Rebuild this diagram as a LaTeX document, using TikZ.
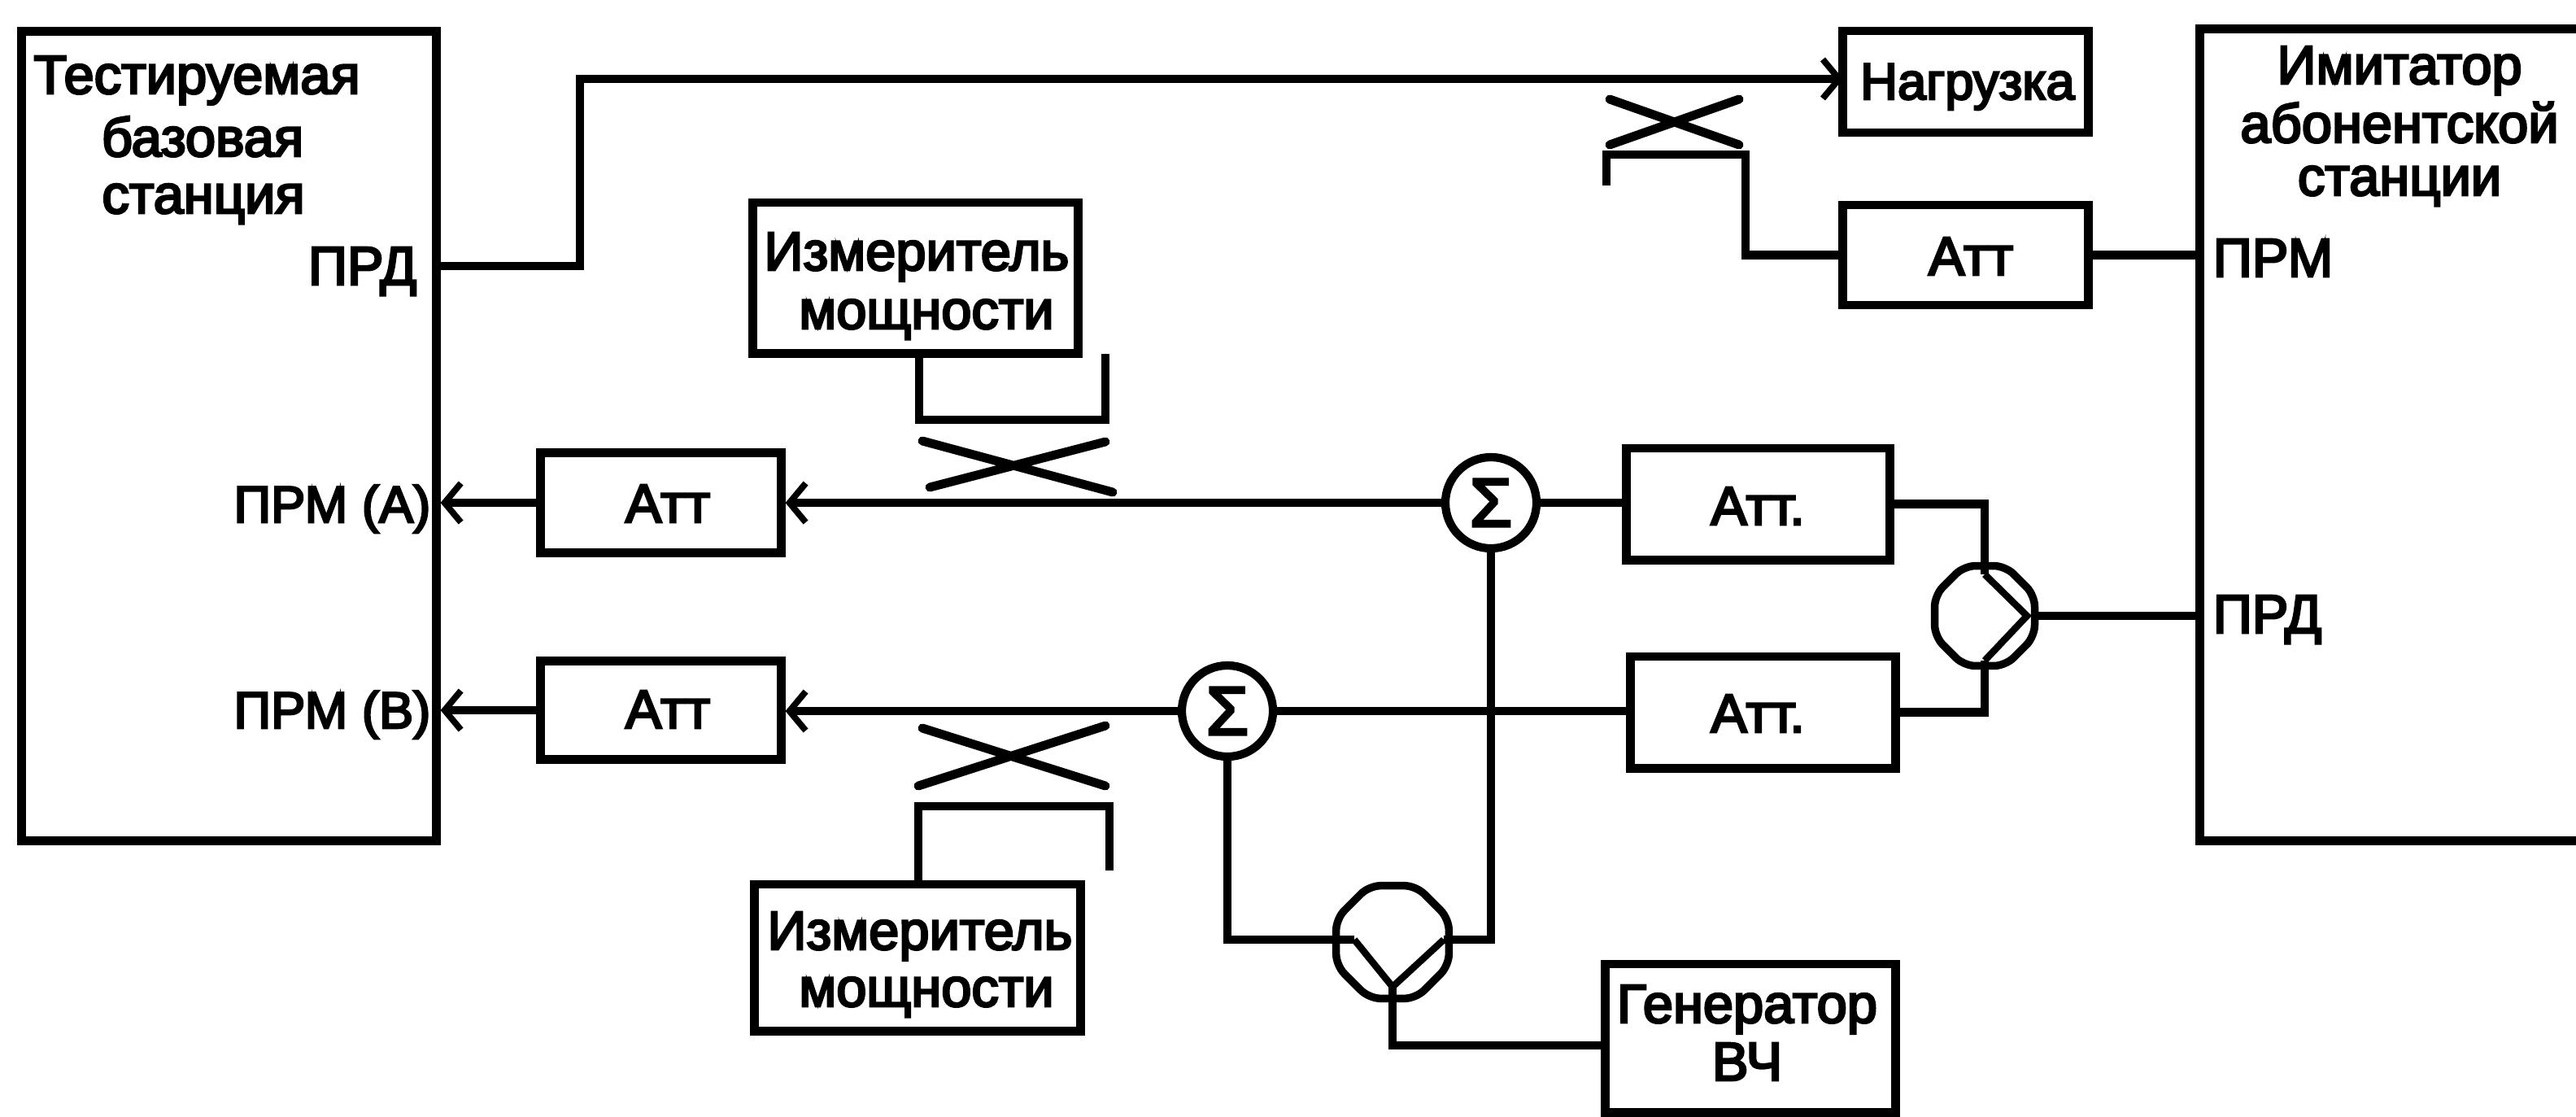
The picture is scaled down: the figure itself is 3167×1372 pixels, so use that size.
\documentclass[tikz,border=0pt]{standalone}
\usepackage{fontspec}
\setmainfont{Liberation Sans}[FakeBold=4]
\usetikzlibrary{arrows.meta,shapes.geometric}
\tikzset{
  x=0.01cm,y=-0.01cm,
  ln/.style={line width=3.1pt,line join=miter,black},
  bx/.style={draw,line width=3.1pt,inner sep=0pt,rectangle,fill=white},
  sumc/.style={draw,circle,line width=2.9pt,inner sep=0pt,minimum size=1.12cm,fill=white,font=\fontsize{24}{26}\selectfont},
  splitc/.style={draw,regular polygon,regular polygon sides=8,line width=2.7pt,inner sep=0pt,fill=white,rounded corners=0.14cm},
  chev/.style={line width=2.4pt,line join=miter},
  cross/.style={line width=3.1pt,line cap=round},
  txt/.style={anchor=base,inner sep=0pt,font=\fontsize{19}{22}\selectfont},
  txts/.style={anchor=base,inner sep=0pt,font=\fontsize{18}{22}\selectfont},
  arr/.style={ln,-{Straight Barb[length=0.2cm,width=0.48cm,line width=2.2pt]}}
}
\begin{document}
\begin{tikzpicture}
\useasboundingbox (0,0) rectangle (3167,1372);
% boxes
\node[bx,minimum width=5.09cm,minimum height=9.94cm] (base) at (281.5,536) {};
\node[rectangle,inner sep=0pt,outer sep=0pt,minimum width=4.62cm,minimum height=9.97cm] (imit) at (2936,534.5) {};
\draw[ln] (imit.north east) -- (imit.north west) -- (imit.south west) -- (imit.south east);
\node[bx,minimum width=3.01cm,minimum height=1.25cm] (nagr) at (2416.5,100.5) {};
\node[bx,minimum width=3.01cm,minimum height=1.23cm] (att0) at (2416.5,313.5) {};
\node[bx,minimum width=3.99cm,minimum height=1.85cm] (meterA) at (1125.5,341.5) {};
\node[bx,minimum width=4.00cm,minimum height=1.80cm] (meterB) at (1128,1177) {};
\node[bx,minimum width=2.95cm,minimum height=1.23cm] (attA) at (812.5,618) {};
\node[bx,minimum width=2.95cm,minimum height=1.21cm] (attB) at (812.5,873) {};
\node[bx,minimum width=3.23cm,minimum height=1.37cm] (att1) at (2161.5,619.5) {};
\node[bx,minimum width=3.25cm,minimum height=1.37cm] (att2) at (2167.5,875.5) {};
\node[bx,minimum width=3.56cm,minimum height=1.82cm] (gen) at (2152,1276) {};
\node[sumc] (sum1) at (1833,618) {Σ};
\node[sumc] (sum2) at (1509,874) {Σ};
\node[splitc,minimum size=1.33cm] (s1) at (2440,757) {};
\node[splitc,minimum size=1.5cm] (s2) at (1712,1158) {};
% named free ends
\coordinate (prd) at (536,327);
\coordinate (bend) at (713,327);
\coordinate (nagrin) at (2266,97);
\coordinate (s1a) at (2440,706);
\coordinate (s1t) at (2492,757);
\coordinate (s1b) at (2440,812);
\coordinate (s2a) at (1665,1155);
\coordinate (s2t) at (1712,1213);
\coordinate (s2b) at (1775,1155);
\coordinate (genin) at (1974,1285);
% connectors
\draw[arr] (prd) -- (bend) |- (nagrin);
\draw[ln] (att0.east) -- (att0.east -| imit.west);
\draw[ln] (att0.west) -- (2146,313.5) -- (2146,190) -- (1975,190) -- (1975,228);
\draw[arr] (attA.west) -- (attA.west -| base.east);
\draw[arr] (attB.west) -- (attB.west -| base.east);
\draw[arr] (sum1.west) -- (sum1.west -| attA.east);
\draw[arr] (sum2.west) -- (sum2.west -| attB.east);
\draw[ln] (sum1.east) -- (sum1.east -| att1.west);
\draw[ln] (sum2.east) -- (sum2.east -| att2.west);
\draw[ln] (att1.east) -| (s1a);
\draw[ln] (att2.east) -| (s1b);
\draw[chev] (s1a) -- (s1t) -- (s1b);
\draw[ln] (s1.east) -- (s1.east -| imit.west);
\draw[ln] (sum2.south) |- (s2a);
\draw[chev] (s2a) -- (s2t) -- (s2b);
\draw[ln] (s2b) -| (sum1.south);
\draw[ln] (s2t) |- (genin);
\draw[ln] (1130,434) -- (1130,516) -- (1359,516) -- (1359,435);
\draw[ln] (1129,1087) -- (1129,991) -- (1364,991) -- (1364,1070);
% couplers
\draw[cross] (1134,542) -- (1368,605) (1143,599) -- (1359,543);
\draw[cross] (1134,895) -- (1359,966) (1129,966) -- (1359,892);
\draw[cross] (1979,122) -- (2138,178) (1979,178) -- (2138,122);
% labels
\node[txt] (t1) at (242,115) {Тестируемая};
\node[txt] (t2) at (249,192) {базовая};
\node[txt] (t3) at (250,262) {станция};
\node[txt,anchor=base east] (t4) at (513,350) {ПРД};
\node[txts,anchor=base east] (t5) at (530,642) {ПРМ (А)};
\node[txts,anchor=base east] (t6) at (530,895) {ПРМ (В)};
\node[txt] (t7) at (2950,103) {Имитатор};
\node[txt] (t8) at (2950,175) {абонентской};
\node[txt] (t9) at (2950,240) {станции};
\node[txt,anchor=base west] (t10) at (2720,340) {ПРМ};
\node[txt,anchor=base west] (t11) at (2720,778) {ПРД};
\node[txts] (t12) at (2419,122) {Нагрузка};
\node[txt] (t13) at (2423,338) {Атт};
\node[txt] (t14) at (1127,332) {Измеритель};
\node[txt] (t15) at (1139,404) {мощности};
\node[txt] (t16) at (1131,1167) {Измеритель};
\node[txt] (t17) at (1139,1237) {мощности};
\node[txt] (t18) at (821,642) {Атт};
\node[txt] (t19) at (821,895) {Атт};
\node[txt] (t20) at (2161,645) {Атт.};
\node[txt] (t21) at (2161,900) {Атт.};
\node[txt] (t22) at (2148,1257) {Генератор};
\node[txt] (t23) at (2148,1328) {ВЧ};
\end{tikzpicture}
\end{document}
